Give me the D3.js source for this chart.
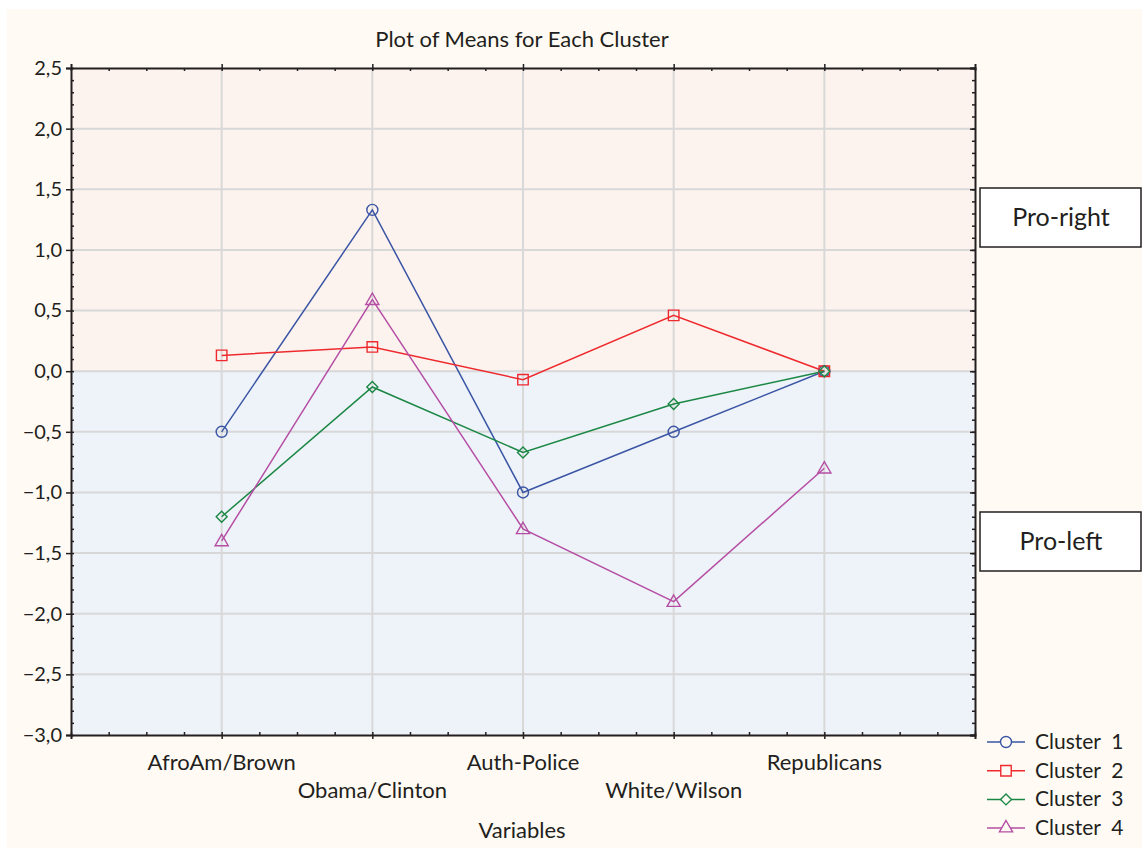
<!DOCTYPE html>
<html><head><meta charset="utf-8">
<script src="https://cdn.jsdelivr.net/npm/d3@7"></script>
<style>body{margin:0;background:#fff;} text{font-family:Lato,"Open Sans",sans-serif;fill:#231f20;}</style>
</head><body><svg id="c" width="1142" height="848"></svg>
<script>
const categories = ["AfroAm/Brown","Obama/Clinton","Auth-Police","White/Wilson","Republicans"];
const cluster1 = [-0.5, 1.33, -1.0, -0.5, 0.0];
const cluster2 = [0.13, 0.2, -0.07, 0.46, 0.0];
const cluster3 = [-1.2, -0.13, -0.67, -0.27, 0.0];
const cluster4 = [-1.4, 0.59, -1.3, -1.9, -0.8];
const seriesNames = ["Cluster  1","Cluster  2","Cluster  3","Cluster  4"];
const yTicks = [2.5,2.0,1.5,1.0,0.5,0.0,-0.5,-1.0,-1.5,-2.0,-2.5,-3.0];
const colors = ["#3b55a5","#ee2a2e","#1b8744","#b54ea4"];
const symbols = ["circle","square","diamond","triangle"];
const series = [cluster1,cluster2,cluster3,cluster4];

const svg = d3.select("#c");
const L=71,R=975,T=68,B=735;
svg.append("rect").attr("x",7).attr("y",9).attr("width",1135).attr("height",839).attr("fill","#fffbf4");
const x = d3.scaleLinear().domain([0,categories.length+1]).range([L,R]);
const y = d3.scaleLinear().domain([-3,2.5]).range([B,T]);
svg.append("rect").attr("x",L).attr("y",y(2.5)).attr("width",R-L).attr("height",y(0)-y(2.5)).attr("fill","#fcf3ee");
svg.append("rect").attr("x",L).attr("y",y(0)).attr("width",R-L).attr("height",y(-3)-y(0)).attr("fill","#eef3f9");
const g = svg.append("g");
g.selectAll(".hg").data(yTicks.slice(1,-1)).enter().append("line")
 .attr("x1",L).attr("x2",R).attr("y1",d=>y(d)).attr("y2",d=>y(d)).attr("stroke","#d8d8d8").attr("stroke-width",2);
g.selectAll(".vg").data(d3.range(1,categories.length+1)).enter().append("line")
 .attr("y1",T).attr("y2",B).attr("x1",d=>x(d)).attr("x2",d=>x(d)).attr("stroke","#d8d8d8").attr("stroke-width",2);
const fmt = d=>d3.format(".1f")(d).replace(".",",").replace("-","\u2212");
const yMinor = d3.range(-3,2.5001,0.1).map(v=>+v.toFixed(2));
const axL = d3.axisLeft(y).tickValues(yTicks).tickFormat(fmt).tickSize(5).tickPadding(4);
const gl = svg.append("g").attr("transform",`translate(${L},0)`).call(axL);
gl.selectAll("text").style("font-size","20px");
svg.append("g").attr("transform",`translate(${L},0)`).call(d3.axisRight(y).tickValues(yMinor).tickSize(3).tickFormat(""))
 .call(s=>s.select(".domain").remove());
svg.append("g").attr("transform",`translate(${R},0)`).call(d3.axisLeft(y).tickValues(yTicks).tickSize(5).tickFormat(""));
svg.append("g").attr("transform",`translate(${R},0)`).call(d3.axisLeft(y).tickValues(yMinor).tickSize(3).tickFormat(""))
 .call(s=>s.select(".domain").remove());
const xMinor = d3.range(0,categories.length+1.001,0.25);
svg.append("g").attr("transform",`translate(0,${T})`).call(d3.axisTop(x).tickValues(d3.range(1,categories.length+1)).tickSize(4).tickFormat(""));
svg.append("g").attr("transform",`translate(0,${T})`).call(d3.axisBottom(x).tickValues(xMinor).tickSize(3).tickFormat("")).call(s=>s.select(".domain").remove());
svg.append("g").attr("transform",`translate(0,${B})`).call(d3.axisBottom(x).tickValues(d3.range(1,categories.length+1)).tickSize(4).tickFormat(""));
svg.append("g").attr("transform",`translate(0,${B})`).call(d3.axisTop(x).tickValues(xMinor).tickSize(3).tickFormat("")).call(s=>s.select(".domain").remove());
svg.selectAll(".domain").attr("stroke","#231f20").attr("stroke-width",2);
svg.selectAll(".tick line").attr("stroke","#231f20").attr("stroke-width",1.5);
svg.selectAll(".cat").data(categories).enter().append("text")
 .attr("x",(d,i)=>x(i+1)).attr("y",(d,i)=>i%2===0?770:798).attr("text-anchor","middle").style("font-size","22px").text(d=>d);
svg.append("text").attr("x",522).attr("y",838).attr("text-anchor","middle").style("font-size","22px").text("Variables");
svg.append("text").attr("x",522).attr("y",47).attr("text-anchor","middle").style("font-size","22px").text("Plot of Means for Each Cluster");
const diamond = {draw(ctx,size){const r=Math.sqrt(size/2);ctx.moveTo(0,-r);ctx.lineTo(r,0);ctx.lineTo(0,r);ctx.lineTo(-r,0);ctx.closePath();}};
const symMap = {circle:d3.symbolCircle,square:d3.symbolSquare,diamond:diamond,triangle:d3.symbolTriangle};
const symSize = {circle:95,square:110,diamond:60,triangle:75};
const line = d3.line().x((d,i)=>x(i+1)).y(d=>y(d));
series.forEach((s,k)=>{
  svg.append("path").datum(s).attr("d",line).attr("fill","none").attr("stroke",colors[k]).attr("stroke-width",1.5);
});
series.forEach((s,k)=>{
  svg.selectAll(".m"+k).data(s).enter().append("path")
   .attr("transform",(d,i)=>`translate(${x(i+1)},${y(d)+(symbols[k]==="triangle"?1:0)})`)
   .attr("d",d3.symbol().type(symMap[symbols[k]]).size(symSize[symbols[k]]))
   .attr("fill","none").attr("stroke",colors[k]).attr("stroke-width",1.4);
});
const lg = svg.append("g");
seriesNames.forEach((n,k)=>{
  const yy = 742 + k*28.7;
  lg.append("line").attr("x1",987).attr("x2",1025).attr("y1",yy).attr("y2",yy).attr("stroke",colors[k]).attr("stroke-width",1.5);
  lg.append("path").attr("transform",`translate(1006,${yy})`).attr("d",d3.symbol().type(symMap[symbols[k]]).size(symSize[symbols[k]]))
   .attr("fill","#fffbf4").attr("stroke",colors[k]).attr("stroke-width",1.4);
  lg.append("text").attr("x",1035).attr("y",yy+7).style("font-size","21px").style("white-space","pre").attr("xml:space","preserve").text(n);
});
const boxes = [{t:"Pro-right",y:188},{t:"Pro-left",y:512}];
boxes.forEach(b=>{
  svg.append("rect").attr("x",980).attr("y",b.y).attr("width",161).attr("height",59).attr("fill","#fff").attr("stroke","#231f20").attr("stroke-width",1.5);
  svg.append("text").attr("x",1061).attr("y",b.y+38).attr("text-anchor","middle").style("font-size","25px").text(b.t);
});
</script></body></html>
